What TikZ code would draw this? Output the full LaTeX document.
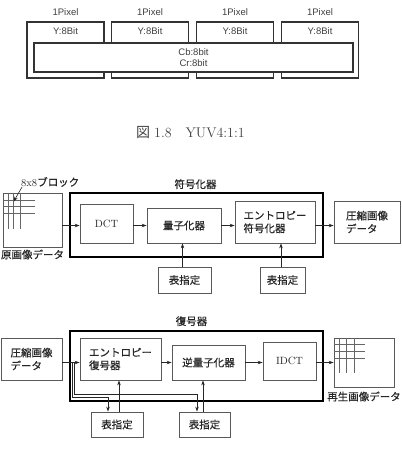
\documentclass[tikz,border=0pt]{standalone}
\usepackage{fontspec}
\newfontfamily\jp[FakeBold=0.6]{Noto Sans CJK JP}
\newfontfamily\jplight{Noto Sans CJK JP}
\newfontfamily\pix{Liberation Sans}
\usetikzlibrary{positioning,arrows.meta}

\begin{document}
\begin{tikzpicture}[
    x=1pt, y=-1pt,
    pixbox/.style={
        draw=black!80,
        line width=1.1pt,
        inner sep=0pt,
        minimum width=77pt,
        minimum height=56pt
    },
    pixtxt/.style={font=\pix\fontsize{9.5}{10.5}\selectfont, text=black!75, inner sep=1pt},
    box/.style={
        draw=black!65,
        line width=0.8pt,
        inner sep=0pt,
        align=left,
        font=\jp\fontsize{10.5}{13}\selectfont,
        text=black!85
    },
    serifbox/.style={box, font=\fontsize{10.5}{12}\selectfont},
    unit/.style={draw=black, line width=1.6pt, inner sep=0pt},
    title/.style={font=\jp\fontsize{10.5}{12}\selectfont, text=black!85, inner sep=1pt},
    gridline/.style={draw=black!60, line width=0.8pt},
    arrow/.style={-{Stealth[length=5pt,width=3.5pt]}, line width=0.6pt, draw=black!85}
]
\useasboundingbox (0,0) rectangle (402,456);

% ===== YUV 4:1:1 =====
\node[pixbox] (y1) at (65.5,50) {};
\node[pixbox] (y2) at (150,50)  {};
\node[pixbox] (y3) at (235,50)  {};
\node[pixbox] (y4) at (320,50)  {};

\node[pixtxt] (p1) at ([yshift=9pt]y1.north) {1Pixel};
\node[pixtxt] (p2) at ([yshift=9pt]y2.north) {1Pixel};
\node[pixtxt] (p3) at ([yshift=9pt]y3.north) {1Pixel};
\node[pixtxt] (p4) at ([yshift=9pt]y4.north) {1Pixel};

\node[pixtxt] (v1) at ([yshift=-10pt]y1.north) {Y:8Bit};
\node[pixtxt] (v2) at ([yshift=-10pt]y2.north) {Y:8Bit};
\node[pixtxt] (v3) at ([yshift=-10pt]y3.north) {Y:8Bit};
\node[pixtxt] (v4) at ([yshift=-10pt]y4.north) {Y:8Bit};

\node[pixbox, fill=white, minimum width=319pt, minimum height=29pt,
      align=center, pixtxt] (cbcr) at (193.5,57.5) {Cb:8bit\\Cr:8bit};

\node[anchor=west, text=black!75, inner sep=0pt] (cap) at (136,132)
    {\fontsize{14}{16}\selectfont\addfontfeature{LetterSpace=6}{\jplight 図}\hspace{4pt}1.8\hspace{14pt}YUV4:1:1};

% ===== Encoder =====
\node[unit, minimum width=253pt, minimum height=64pt] (enc) at (196.5,225) {};
\node[title, above=2pt of enc, xshift=-1pt] (enclbl) {符号化器};

\node[box, minimum width=59pt, minimum height=54pt] (src) at (32.5,220) {};
\node[title, below=1pt of src] (srclbl) {原画像データ};
\node[anchor=west, inner sep=0pt, text=black!85] (blk) at (21,182)
    {\fontsize{10.5}{12}\selectfont 8x8{\jp ブロック}};
\coordinate (cell) at ([xshift=11pt,yshift=-9pt]src.north west);

\node[serifbox, minimum width=53pt, minimum height=39pt] (dct) at (106.5,223.5) {DCT};
\node[box, minimum width=74pt, minimum height=35pt] (qnt) at (184,225.5) {量子化器};
\node[box, minimum width=80pt, minimum height=42pt] (ent) at (275,222) {エントロピー\\符号化器};
\node[box, minimum width=66pt, minimum height=42pt] (out) at (367,222) {圧縮画像\\データ};

\node[box, minimum width=53pt, minimum height=26pt] (tblA) at (184.5,280) {表指定};
\node[box, minimum width=45pt, minimum height=26pt] (tblB) at (282.5,280) {表指定};

% 8x8 grid on the source image
\foreach \d in {8,14,21}
    \draw[gridline] ([yshift=-\d pt]src.north west) -- ++(32,0);
\foreach \d in {6,11,18}
    \draw[gridline] ([xshift=\d pt]src.north west) -- ++(0,36);

\draw[arrow] ([xshift=1pt]blk.south west) -- (cell);
\draw[arrow] (src.east |- qnt.west) -- (dct.west |- qnt.west);
\draw[arrow] (dct.east |- qnt.west) -- (qnt.west);
\draw[arrow] (qnt.east) -- (ent.west |- qnt.east);
\draw[arrow] (ent.east |- qnt.east) -- (out.west |- qnt.east);
\draw[arrow] ([xshift=-2pt]tblA.north) -- ([xshift=-2pt]tblA.north |- qnt.south);
\draw[arrow] ([xshift=-1.5pt]tblB.north) -- ([xshift=-1.5pt]tblB.north |- ent.south);

% ===== Decoder =====
\node[unit, minimum width=253pt, minimum height=70pt] (dec) at (196.5,366) {};
\node[title, above=3pt of dec, xshift=-5pt] (declbl) {復号器};

\node[box, minimum width=61pt, minimum height=42pt] (cin) at (31.5,359) {圧縮画像\\データ};
\node[box, minimum width=81pt, minimum height=42pt] (edec) at (120.5,359) {エントロピー\\復号器};
\node[box, minimum width=73pt, minimum height=35pt] (iqnt) at (208.5,362.5) {逆量子化器};
\node[serifbox, minimum width=53pt, minimum height=38pt] (idct) at (289.5,361) {IDCT};
\node[box, minimum width=60pt, minimum height=49pt] (rec) at (364,362.5) {};
\node[title, below=3pt of rec] (reclbl) {再生画像データ};

\node[box, minimum width=52pt, minimum height=25pt] (dtblA) at (117,424.5) {表指定};
\node[box, minimum width=51pt, minimum height=25pt] (dtblB) at (204.5,424.5) {表指定};

% 8x8 grid on the decoded image
\foreach \d in {7,14,21}
    \draw[gridline] ([yshift=-\d pt]rec.north west) -- ++(31,0);
\foreach \d in {6,13,21}
    \draw[gridline] ([xshift=\d pt]rec.north west) -- ++(0,35);

\draw[arrow] (cin.east |- iqnt.west) -- (edec.west |- iqnt.west);
\draw[arrow] (edec.east |- iqnt.west) -- (iqnt.west);
\draw[arrow] (iqnt.east) -- (idct.west |- iqnt.east);
\draw[arrow] (idct.east |- iqnt.east) -- (rec.west |- iqnt.east);

% table selection taps
\coordinate (tapA) at ([xshift=10pt]cin.east |- iqnt.west);
\coordinate (tapB) at ([xshift=12pt]cin.east |- iqnt.west);
\draw[arrow] (tapA) -- ++(0,35) -| ([xshift=-9pt]dtblA.north);
\draw[arrow] (tapB) -- ++(0,32) -| ([xshift=-7.5pt]dtblB.north);
\draw[arrow] ([xshift=2pt]dtblA.north) -- ([xshift=2pt]dtblA.north |- edec.south);
\draw[arrow] ([xshift=-1.5pt]dtblB.north) -- ([xshift=-1.5pt]dtblB.north |- iqnt.south);

\end{tikzpicture}
\end{document}
